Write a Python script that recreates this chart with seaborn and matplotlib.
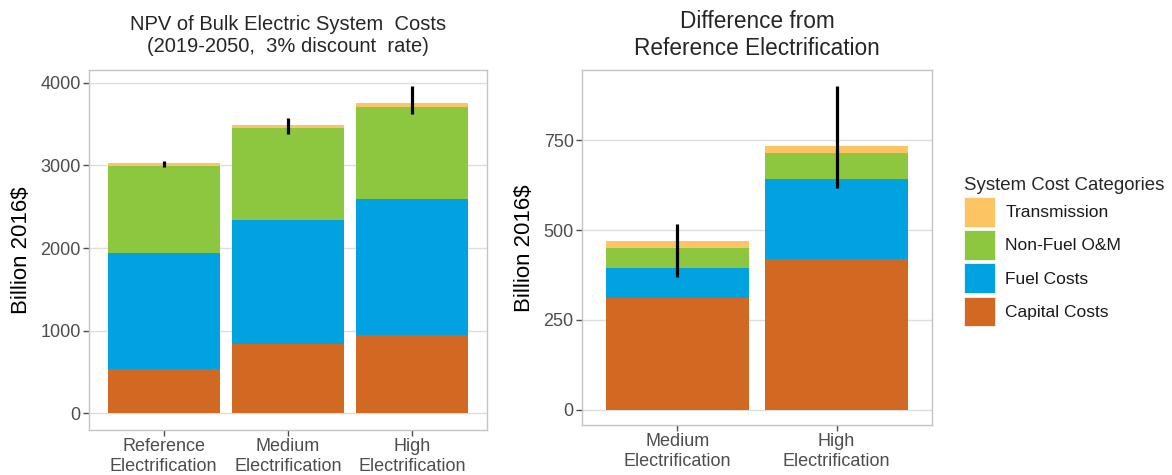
import matplotlib.pyplot as plt
import seaborn as sns
import numpy as np
import pandas as pd
from matplotlib.patches import Patch

# data
cenarios = ["Reference\nElectrification", "Medium\nElectrification", "High\nElectrification"]
capital = [532, 842, 947]
combustivel = [1411, 1500, 1642]
om = [1052, 1106, 1120]
transmissao = [29, 36, 41]
erro_min = [2985, 3379, 3624]
erro_max = [3055, 3576, 3963]

cenarios_dif = ["Medium\nElectrification", "High\nElectrification"]
capital_dif = [312, 419]
combustivel_dif = [82, 222]
om_dif = [56, 74]
transmissao_dif = [19, 18]
erro_min_dif = [369, 617]
erro_max_dif = [516, 900]

categorias = ["Transmission", "Non-Fuel O&M", "Fuel Costs", "Capital Costs"]
cores = ["#FDC463", "#8DC63F", "#00A3E0", "#D26922"]

sns.set_theme(style="white")
plt.rcParams['font.family'] = ['Liberation Sans', 'DejaVu Sans']

fig = plt.figure(figsize=(11.72, 4.75), dpi=100)
ax1 = fig.add_axes([0.0759, 0.0947, 0.3396, 0.758])
ax2 = fig.add_axes([0.4966, 0.105, 0.2986, 0.747])


def barras_empilhadas(ax, nomes, partes, lo, hi):
    # partes: capital, fuel, om, trans (de baixo para cima)
    acumulado = np.cumsum(np.array(partes), axis=0)
    df = pd.DataFrame({"cenario": nomes})
    for i in range(len(partes) - 1, -1, -1):
        df["y"] = acumulado[i]
        sns.barplot(data=df, x="cenario", y="y", color=cores[len(partes) - 1 - i],
                    saturation=1, width=0.9, linewidth=0, ax=ax)
    ax.vlines(x=np.arange(len(nomes)), ymin=lo, ymax=hi, color="black",
              linewidth=2.3, zorder=5)
    ax.set_xlim(-0.6, len(nomes) - 0.4)
    ax.set_xlabel("")
    ax.set_ylabel("Billion 2016$", fontsize=16, color="black", labelpad=6)
    ax.grid(axis="y", color="#DEDEDE", linewidth=1)
    ax.set_axisbelow(True)
    for s in ax.spines.values():
        s.set_color("#C4C4C4")
        s.set_linewidth(1)
    ax.tick_params(axis="both", which="major", length=4, width=1, color="#4D4D4D",
                   labelsize=13, labelcolor="#4D4D4D", bottom=True, left=True, pad=2)


barras_empilhadas(ax1, cenarios, [capital, combustivel, om, transmissao], erro_min, erro_max)
ax1.set_ylim(-201, 4153)
ax1.set_yticks([0, 1000, 2000, 3000, 4000])
ax1.set_title("NPV of Bulk Electric System  Costs\n(2019-2050,  3% discount  rate)",
              fontsize=14.5, pad=13)

barras_empilhadas(ax2, cenarios_dif, [capital_dif, combustivel_dif, om_dif, transmissao_dif],
                  erro_min_dif, erro_max_dif)
ax2.set_ylim(-43, 945)
ax2.set_yticks([0, 250, 500, 750])
ax2.set_title("Difference from\nReference Electrification", fontsize=16.3, pad=11)

# legenda
alcas = [Patch(facecolor=c, edgecolor="white", linewidth=0.5) for c in cores]
leg = fig.legend(alcas, categorias, title="System Cost Categories", loc="upper left",
                 bbox_to_anchor=(955 / 1172, 1 - 168 / 475), frameon=False,
                 fontsize=12.5, title_fontsize=13.4, handlelength=1.8, handleheight=2.25,
                 labelspacing=0.2, handletextpad=0.6, borderpad=0, alignment="left")
for t in leg.get_texts():
    t.set_color("#1A1A1A")

plt.savefig("out.png", dpi=100, facecolor="white")
